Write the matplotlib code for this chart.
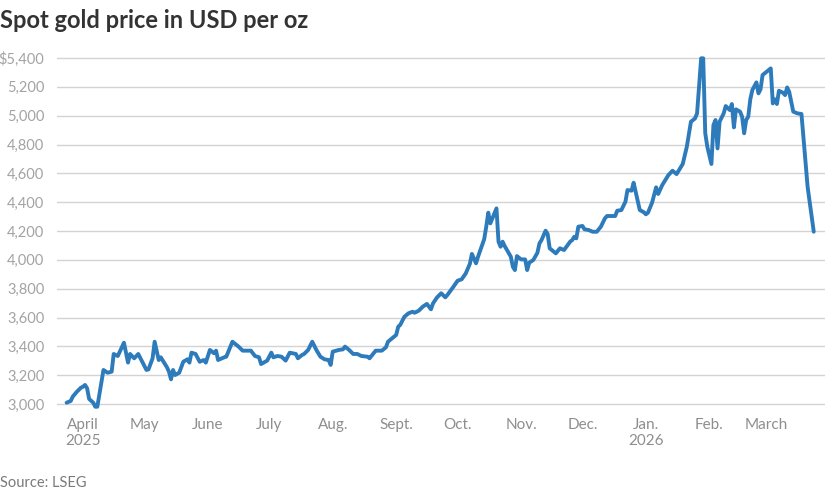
import matplotlib
matplotlib.use("Agg")
import matplotlib.pyplot as plt
import pandas as pd

dates = [
"2025-03-24","2025-03-26","2025-03-27","2025-03-29","2025-03-31","2025-04-01","2025-04-02","2025-04-03","2025-04-04","2025-04-06",
"2025-04-07","2025-04-08","2025-04-11","2025-04-13","2025-04-15","2025-04-16","2025-04-18","2025-04-21","2025-04-23","2025-04-24",
"2025-04-26","2025-04-28","2025-05-02","2025-05-03","2025-05-05","2025-05-06","2025-05-08","2025-05-09","2025-05-12","2025-05-13",
"2025-05-14","2025-05-15","2025-05-16","2025-05-18","2025-05-20","2025-05-22","2025-05-23","2025-05-24","2025-05-26","2025-05-28",
"2025-05-30","2025-05-31","2025-06-02","2025-06-04","2025-06-05","2025-06-06","2025-06-09","2025-06-10","2025-06-11","2025-06-13",
"2025-06-16","2025-06-18","2025-06-22","2025-06-24","2025-06-26","2025-06-27","2025-06-30","2025-07-02","2025-07-03","2025-07-05",
"2025-07-07","2025-07-09","2025-07-11","2025-07-14","2025-07-15","2025-07-17","2025-07-18","2025-07-20","2025-07-22","2025-07-24",
"2025-07-26","2025-07-28","2025-07-30","2025-07-31","2025-08-01","2025-08-04","2025-08-06","2025-08-07","2025-08-09","2025-08-11",
"2025-08-13","2025-08-15","2025-08-18","2025-08-19","2025-08-21","2025-08-22","2025-08-25","2025-08-27","2025-08-28","2025-08-30",
"2025-09-01","2025-09-02","2025-09-03","2025-09-05","2025-09-07","2025-09-09","2025-09-10","2025-09-12","2025-09-14","2025-09-16",
"2025-09-18","2025-09-19","2025-09-21","2025-09-23","2025-09-25","2025-09-26","2025-09-29","2025-10-01","2025-10-03","2025-10-05",
"2025-10-07","2025-10-08","2025-10-10","2025-10-11","2025-10-14","2025-10-15","2025-10-16","2025-10-17","2025-10-20","2025-10-21",
"2025-10-22","2025-10-23","2025-10-24","2025-10-27","2025-10-28","2025-10-29","2025-10-30","2025-11-01","2025-11-03","2025-11-04",
"2025-11-05","2025-11-07","2025-11-09","2025-11-10","2025-11-11","2025-11-13","2025-11-14","2025-11-15","2025-11-17","2025-11-18",
"2025-11-20","2025-11-22","2025-11-25","2025-11-26","2025-11-27","2025-11-28","2025-11-29","2025-12-01","2025-12-02","2025-12-04",
"2025-12-06","2025-12-08","2025-12-10","2025-12-12","2025-12-13","2025-12-17","2025-12-18","2025-12-20","2025-12-22","2025-12-23",
"2025-12-25","2025-12-26","2025-12-27","2025-12-29","2025-12-31","2026-01-01","2026-01-02","2026-01-04","2026-01-06","2026-01-07",
"2026-01-09","2026-01-12","2026-01-14","2026-01-16","2026-01-19","2026-01-21","2026-01-23","2026-01-25","2026-01-26","2026-01-28",
"2026-01-29","2026-01-30","2026-01-31","2026-02-02","2026-02-03","2026-02-04","2026-02-05","2026-02-06","2026-02-08","2026-02-09",
"2026-02-11","2026-02-12","2026-02-13","2026-02-14","2026-02-16","2026-02-17","2026-02-18","2026-02-19","2026-02-20","2026-02-21",
"2026-02-22","2026-02-24","2026-02-25","2026-02-26","2026-02-27","2026-03-01","2026-03-03","2026-03-04","2026-03-05","2026-03-06",
"2026-03-07","2026-03-09","2026-03-10","2026-03-11","2026-03-12","2026-03-14","2026-03-16","2026-03-18","2026-03-21","2026-03-22",
"2026-03-24",
]
prices = [
3009,3021,3051,3085,3113,3120,3132,3109,3035,3009,
2981,2981,3236,3217,3224,3347,3333,3425,3287,3347,
3317,3347,3236,3240,3317,3432,3305,3324,3255,3224,
3171,3236,3201,3217,3293,3310,3287,3356,3347,3293,
3305,3287,3375,3352,3370,3305,3324,3328,3363,3432,
3398,3370,3370,3333,3324,3277,3301,3356,3324,3333,
3328,3301,3356,3347,3317,3340,3347,3375,3432,3375,
3328,3310,3305,3271,3363,3375,3379,3398,3375,3347,
3347,3333,3328,3317,3352,3370,3370,3393,3432,3456,
3479,3536,3549,3605,3629,3640,3633,3647,3675,3694,
3657,3698,3740,3768,3740,3756,3814,3855,3865,3906,
3972,4041,3976,4022,4143,4230,4327,4253,4357,4126,
4091,4126,4096,4022,3952,3929,4026,4003,4003,3929,
3980,3999,4049,4114,4137,4202,4179,4080,4056,4045,
4080,4068,4126,4137,4160,4149,4230,4235,4212,4207,
4195,4195,4230,4288,4304,4304,4341,4345,4403,4484,
4480,4535,4473,4346,4330,4316,4327,4396,4503,4457,
4519,4588,4618,4595,4665,4785,4958,4981,5016,5398,
5398,4878,4785,4665,4935,4970,4773,4958,5016,5067,
5039,5081,4919,5044,5028,4993,4878,4970,4993,5113,
5178,5231,5155,5183,5282,5305,5328,5085,5113,5081,
5173,5159,5143,5196,5166,5028,5016,5012,4507,4403,
4195,
]

yticks = [3000, 3200, 3400, 3600, 3800, 4000, 4200, 4400, 4600, 4800, 5000, 5200, 5400]
ytick_labels = ["3,000", "3,200", "3,400", "3,600", "3,800", "4,000", "4,200",
                "4,400", "4,600", "4,800", "5,000", "5,200", "$5,400"]
xtick_dates = ["2025-04-01", "2025-05-01", "2025-06-01", "2025-07-01", "2025-08-01",
               "2025-09-01", "2025-10-01", "2025-11-01", "2025-12-01", "2026-01-01",
               "2026-02-01", "2026-03-01"]
xtick_labels = ["April\n2025", "May", "June", "July", "Aug.", "Sept.", "Oct.", "Nov.",
                "Dec.", "Jan.\n2026", "Feb.", "March"]

title = "Spot gold price in USD per oz"
source = "Source: LSEG"

plt.rcParams['font.family'] = ['Lato', 'DejaVu Sans']

W, H = 825, 492
fig = plt.figure(figsize=(W / 100, H / 100), dpi=100)
fig.patch.set_facecolor("white")

left_px, right_px = 57, 825
top_px, bot_px = 53.7, 411.2
ax = fig.add_axes([left_px / W, 1 - bot_px / H, (right_px - left_px) / W, (bot_px - top_px) / H])

x = pd.to_datetime(dates)
ax.plot(x, prices, color="#2d7bbb", lw=2.8, solid_joinstyle="round", solid_capstyle="round", zorder=3)

base = pd.Timestamp("2025-04-01")
ax.set_xlim(base + pd.Timedelta(days=-12.7), base + pd.Timedelta(days=362.5))
ax.set_ylim(2950, 5430)

for s in ax.spines.values():
    s.set_visible(False)

ax.set_yticks(yticks)
ax.set_yticklabels(ytick_labels)
ax.yaxis.grid(True, color="#d3d3d3", lw=1.0)
ax.set_axisbelow(True)
ax.tick_params(axis="y", length=0, pad=9, labelsize=10.5, labelcolor="#a3a3a3")

ax.set_xticks(pd.to_datetime(xtick_dates))
ax.set_xticklabels(xtick_labels, linespacing=1.2)
ax.tick_params(axis="x", length=0, pad=5, labelsize=11, labelcolor="#8e8e8e")

fig.text(0.0, 1 - 20 / H, title, fontsize=17, fontweight="bold", color="#333333",
         ha="left", va="center")
fig.text(0.0, 1 - 483 / H, source, fontsize=10.5, color="#7a7a7a", ha="left", va="center")

fig.savefig("out.png", dpi=100)
